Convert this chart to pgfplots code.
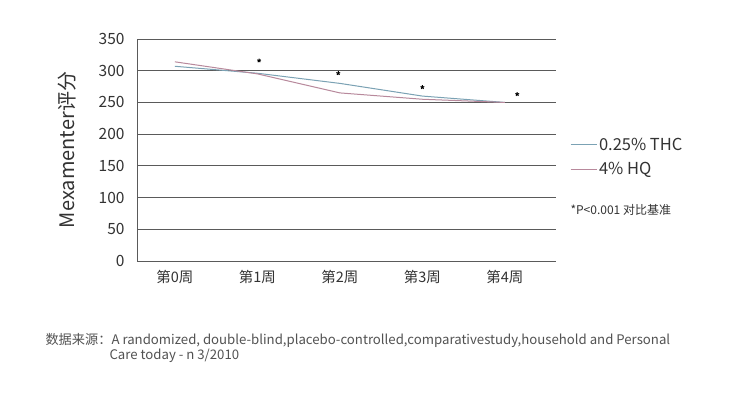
\documentclass[border=0pt]{standalone}
\usepackage{pgfplots}
\pgfplotsset{compat=1.18}
\usepackage{fontspec}
\setmainfont{Noto Sans CJK SC}
\definecolor{thc}{HTML}{7BA2B4}
\definecolor{hq}{HTML}{B8899C}
\definecolor{gridc}{HTML}{5A5A5A}
\definecolor{txt}{HTML}{333333}
\begin{document}
\begin{tikzpicture}
\path[use as bounding box, fill=white] (0pt,0pt) rectangle (730pt,395pt);
\begin{axis}[
  at={(137pt,134pt)}, anchor=south west,
  scale only axis, width=419pt, height=222pt,
  xmin=-0.46, xmax=4.62, ymin=0, ymax=350,
  axis x line=bottom, axis y line=left,
  axis line style={gridc, line width=0.8pt, -},
  ymajorgrids, grid style={gridc, line width=0.8pt},
  ytick={0,50,...,350},
  xtick={0,1,2,3,4},
  xticklabels={第0周,第1周,第2周,第3周,第4周},
  major tick length=0pt,
  yticklabel style={font=\fontsize{15.5}{17}\selectfont, text=txt, xshift=-9pt},
  xticklabel style={font=\fontsize{14.5}{17}\selectfont, text=txt, yshift=-6pt},
  /pgf/number format/assume math mode=true,
  ylabel={Mexamenter评分},
  ylabel style={font=\fontsize{20}{22}\selectfont, text=txt,
    at={(axis description cs:-0.167,0.5)}, anchor=center},
  clip=false,
  legend style={at={(1.033,0.565)}, anchor=north west, draw=none, fill=none,
    font=\fontsize{16.5}{19}\selectfont, text=txt, row sep=7pt, inner sep=0pt,
    /tikz/every even column/.style={column sep=0pt}},
  legend cell align=left,
  legend image code/.code={\draw[#1] (0pt,0pt) -- (26pt,0pt);},
]
\addplot[thc, line width=1pt] coordinates {(0,307) (1,296) (2,280) (3,260) (4,250)};
\addlegendentry{0.25\% THC}
\addplot[hq, line width=1pt] coordinates {(0,314) (1,295) (2,265) (3,255) (4,250)};
\addlegendentry{4\% HQ}
\addplot[only marks, mark=star, mark size=2pt, black, forget plot, line width=1pt] coordinates {(1.02,316) (1.98,296) (3.0,274) (4.15,263)};
\end{axis}
\node[anchor=west, font=\fontsize{12}{14}\selectfont, text=txt] at (567pt,185pt) {*P<0.001 对比基准};
\node[anchor=west, font=\fontsize{13.2}{15}\selectfont, text=txt!85!white] at (42pt,55pt)
  {数据来源：A randomized, double-blind,placebo-controlled,comparativestudy,household and Personal};
\node[anchor=west, font=\fontsize{13.2}{15}\selectfont, text=txt!85!white] at (106pt,39pt) {Care today - n 3/2010};
\end{tikzpicture}
\end{document}
